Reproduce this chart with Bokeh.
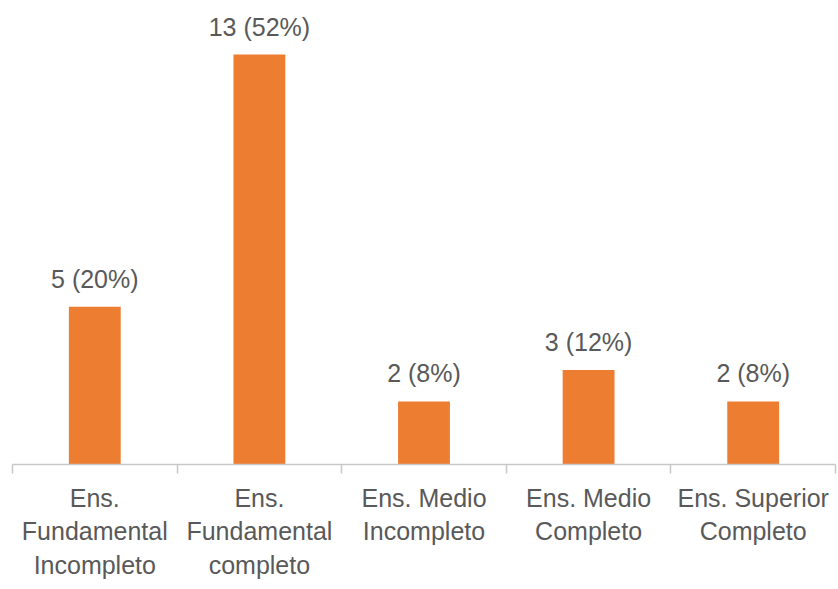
from bokeh.plotting import figure
from bokeh.models import Range1d, FixedTicker, ColumnDataSource, LinearAxis
from bokeh.core.properties import value
from bokeh.embed import file_html
from bokeh.resources import INLINE

categories = ["Ens.\nFundamental\nIncompleto", "Ens.\nFundamental\ncompleto",
              "Ens. Medio\nIncompleto", "Ens. Medio\nCompleto", "Ens. Superior\nCompleto"]
counts = [5, 13, 2, 3, 2]
percents = [20, 52, 8, 12, 8]

xs = [i + 0.5 for i in range(len(categories))]
labels = [f"{c} ({p}%)" for c, p in zip(counts, percents)]
src = ColumnDataSource(dict(x=xs, top=counts, label=labels))

FONT = "Liberation Sans"
GREY = "#595959"

p = figure(width=838, height=582, output_backend="svg", toolbar_location=None,
           x_range=Range1d(0, len(categories)), y_range=Range1d(0, 14.46),
           min_border_left=12, min_border_right=3, min_border_top=8, min_border_bottom=60,
           x_axis_location=None, y_axis_location=None)
p.outline_line_color = None
p.xgrid.visible = False
p.ygrid.visible = False

p.vbar(x="x", top="top", width=0.315, source=src, color="#ED7D31", line_color=None)
p.text(x="x", y="top", text="label", source=src, text_align="center", text_baseline="bottom",
       y_offset=-14, text_font=value(FONT), text_font_size="25px", text_color=GREY)

ax = LinearAxis(ticker=FixedTicker(ticks=xs, minor_ticks=list(range(len(categories) + 1))))
ax.major_label_overrides = {x: c for x, c in zip(xs, categories)}
ax.axis_line_color = "#C8C8C8"
ax.axis_line_width = 1.5
ax.major_tick_line_color = None
ax.minor_tick_line_color = "#C8C8C8"
ax.minor_tick_line_width = 1.5
ax.minor_tick_out = 9
ax.minor_tick_in = 0
ax.major_label_text_font = FONT
ax.major_label_text_font_size = "25px"
ax.major_label_text_color = GREY
ax.major_label_text_line_height = 1.21
ax.major_label_standoff = 10
p.add_layout(ax, "below")

open("out.html", "w").write(file_html(p, INLINE))
